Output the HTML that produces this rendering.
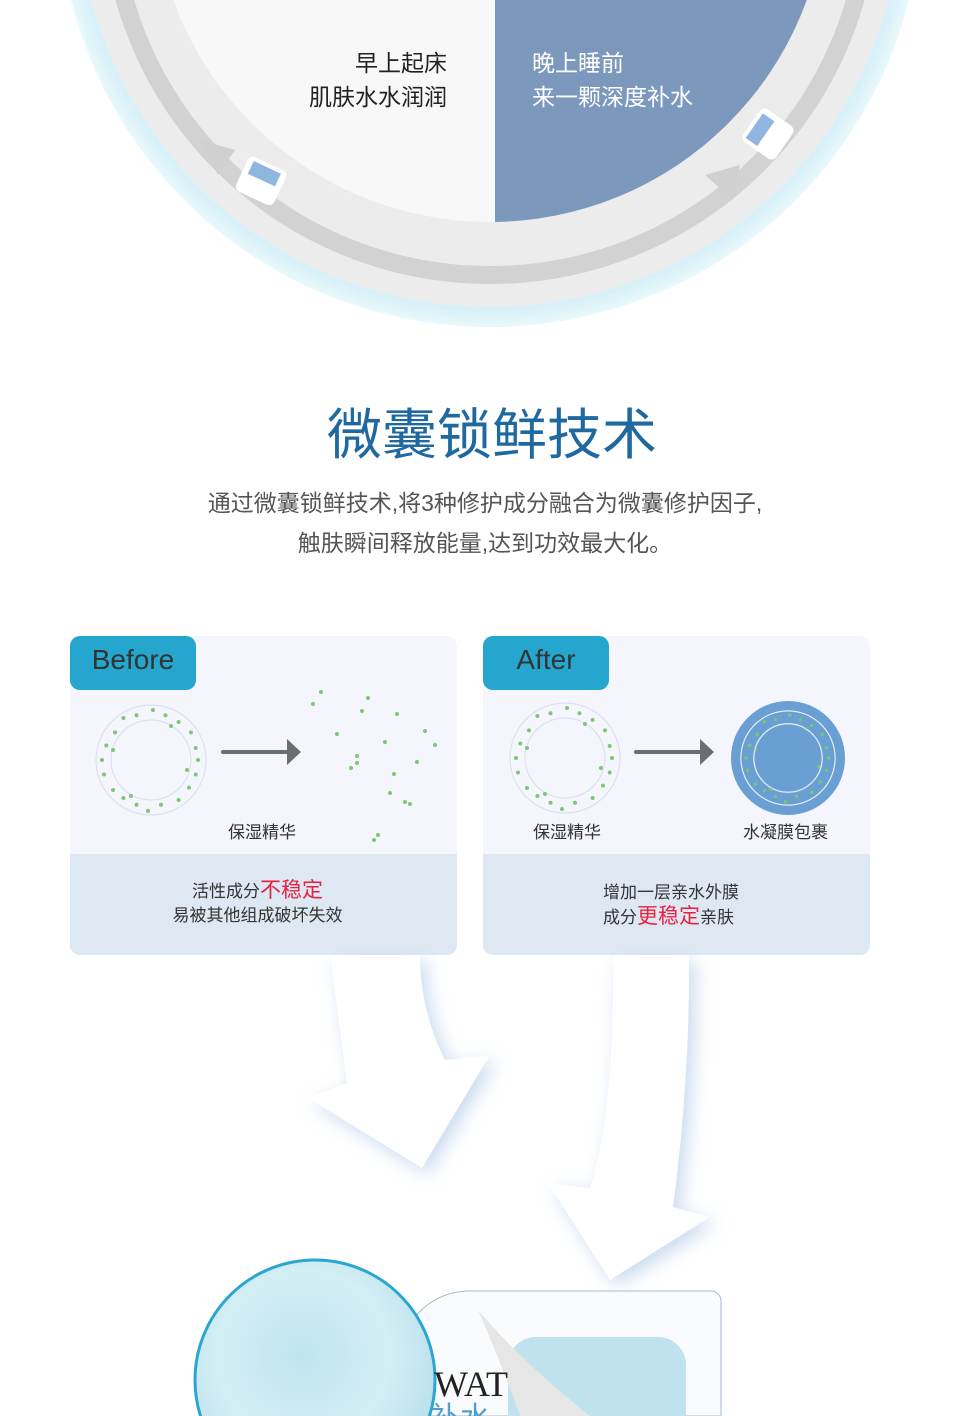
<!DOCTYPE html>
<html><head><meta charset="utf-8"><style>
html,body{margin:0;width:970px;height:1416px;overflow:hidden;background:#fff;position:relative;font-family:"Liberation Sans","Noto Sans CJK SC",sans-serif}
.a{position:absolute;white-space:nowrap}
</style></head><body>
<svg class="a" style="left:0;top:0" width="970" height="1416" viewBox="0 0 970 1416">
<defs>
<clipPath id="ph"><circle cx="490" cy="-115" r="337"/></clipPath>
<radialGradient id="rim" cx="490" cy="-105" r="432" gradientUnits="userSpaceOnUse">
<stop offset="0.9" stop-color="#f2f6f8"/><stop offset="0.96" stop-color="#d7f0f7"/><stop offset="1" stop-color="#e9f8fc"/></radialGradient>
<radialGradient id="jar" cx="0.45" cy="0.4" r="0.6"><stop offset="0" stop-color="#bfe4ee"/><stop offset="0.6" stop-color="#d3eef5"/><stop offset="1" stop-color="#b8dfec"/></radialGradient>
<filter id="bl" x="-30%" y="-30%" width="160%" height="160%"><feGaussianBlur stdDeviation="9"/></filter>
<g id="ring"><circle r="55" fill="none" stroke="#d5deee" stroke-width="1"/><circle r="40" fill="none" stroke="#d5deee" stroke-width="1"/>
<g fill="#7cc96f"><circle cx="47" cy="0" r="2"/><circle cx="44.7" cy="14.5" r="2"/><circle cx="38" cy="27.6" r="2"/><circle cx="27.6" cy="40" r="2"/><circle cx="10" cy="44.7" r="2"/><circle cx="-3" cy="51" r="2"/><circle cx="-14.5" cy="44.7" r="2"/><circle cx="-27.6" cy="38" r="2"/><circle cx="-38" cy="30" r="2"/><circle cx="-47" cy="14.5" r="2"/><circle cx="-49" cy="0" r="2"/><circle cx="-44.7" cy="-14.5" r="2"/><circle cx="-36" cy="-27.6" r="2"/><circle cx="-27.6" cy="-42" r="2"/><circle cx="-14.5" cy="-44.7" r="2"/><circle cx="2" cy="-50" r="2"/><circle cx="14.5" cy="-44.7" r="2"/><circle cx="27.6" cy="-38" r="2"/><circle cx="40" cy="-27.6" r="2"/><circle cx="44.7" cy="-12" r="2"/><circle cx="20" cy="-34" r="2"/><circle cx="-20" cy="36" r="2"/><circle cx="36" cy="10" r="2"/><circle cx="-38" cy="-10" r="2"/></g></g>
</defs>
<circle cx="490" cy="-105" r="432" fill="url(#rim)"/>
<circle cx="490" cy="-105" r="412" fill="#ececec"/>
<circle cx="490" cy="-105" r="380" fill="none" stroke="#d2d2d2" stroke-width="18"/>
<g clip-path="url(#ph)">
<rect x="100" y="-500" width="395" height="800" fill="#f8f8f8"/>
<rect x="100" y="-500" width="395" height="210" fill="#f1e2cf"/>
<rect x="495" y="-500" width="400" height="800" fill="#7c98bc"/>
</g>
<polygon points="200,140 235,150 218,175" fill="#d0d0d0"/>
<polygon points="705,175 740,165 733,200" fill="#d0d0d0"/>
<rect x="240" y="162" width="42" height="38" rx="6" fill="#fff" transform="rotate(25 261 181)"/>
<rect x="246" y="166" width="30" height="14" fill="#8fb6de" transform="rotate(25 261 181)"/>
<rect x="748" y="114" width="40" height="40" rx="6" fill="#fff" transform="rotate(-55 768 134)"/>
<rect x="752" y="118" width="30" height="14" fill="#8fb6de" transform="rotate(-55 768 134)"/>
<rect x="70" y="636" width="387" height="319" rx="10" fill="#f4f5fd"/>
<path d="M70 854H457V945a10 10 0 0 1-10 10H80a10 10 0 0 1-10-10Z" fill="#dde8f3"/>
<rect x="70" y="636" width="126" height="54" rx="10" fill="#25a6cf"/>
<rect x="483" y="636" width="387" height="319" rx="10" fill="#f4f5fd"/>
<path d="M483 854H870V945a10 10 0 0 1-10 10H493a10 10 0 0 1-10-10Z" fill="#dde8f3"/>
<rect x="483" y="636" width="126" height="54" rx="10" fill="#25a6cf"/>
<use href="#ring" x="151" y="760"/>
<use href="#ring" x="565" y="758"/>
<circle cx="788" cy="758" r="57" fill="#6a9fd4"/>
<use href="#ring" x="788" y="758" transform="translate(788 758) scale(0.86) translate(-788 -758)" opacity="0.95"/>
<circle cx="788" cy="758" r="47" fill="none" stroke="#fff" stroke-opacity="0.7"/>
<circle cx="788" cy="758" r="34" fill="none" stroke="#fff" stroke-opacity="0.7"/>
<g stroke="#6d6d70" stroke-width="4" stroke-linecap="round"><line x1="223" y1="752" x2="290" y2="752"/><line x1="636" y1="752" x2="703" y2="752"/></g>
<polygon points="287,739 301,752 287,765" fill="#6d6d70"/><polygon points="700,739 714,752 700,765" fill="#6d6d70"/>
<g fill="#7cc96f"><circle cx="321" cy="692" r="2"/><circle cx="313" cy="704" r="2"/><circle cx="368" cy="698" r="2"/><circle cx="362" cy="711" r="2"/><circle cx="397" cy="714" r="2"/><circle cx="337" cy="734" r="2"/><circle cx="385" cy="742" r="2"/><circle cx="425" cy="731" r="2"/><circle cx="435" cy="745" r="2"/><circle cx="357" cy="756" r="2"/><circle cx="357" cy="763" r="2"/><circle cx="351" cy="768" r="2"/><circle cx="417" cy="762" r="2"/><circle cx="394" cy="774" r="2"/><circle cx="390" cy="793" r="2"/><circle cx="405" cy="802" r="2"/><circle cx="410" cy="804" r="2"/><circle cx="378" cy="835" r="2"/><circle cx="374" cy="840" r="2"/></g>
<g fill="#c9daf0" filter="url(#bl)" transform="translate(6 6)">
<path d="M330 955 L347 1083 L308 1098 L422 1168 L490 1055 L445 1060 Q420 1010 420 955Z"/>
<path d="M613 955 Q615 1110 590 1188 L548 1183 L610 1280 L710 1217 L673 1207 Q690 1080 689 955Z"/>
</g>
<g fill="#fff">
<path d="M330 955 L347 1083 L308 1098 L422 1168 L490 1055 L445 1060 Q420 1010 420 955Z"/>
<path d="M613 955 Q615 1110 590 1188 L548 1183 L610 1280 L710 1217 L673 1207 Q690 1080 689 955Z"/>
</g>
<path d="M405 1416 V1330 Q430 1291 470 1291 H711 a10 10 0 0 1 10 10 V1416Z" fill="#fafbfc" stroke="#a9bad0" stroke-width="1"/>
<rect x="508" y="1337" width="178" height="120" rx="28" fill="#bfe2ee"/>
<path d="M478 1310 Q520 1360 590 1416 H520 Q500 1360 478 1310Z" fill="#e6e6e6"/>
<circle cx="315" cy="1380" r="120" fill="url(#jar)" stroke="#2aa6d0" stroke-width="3"/>
<text x="434" y="1396" font-family="Liberation Serif,serif" font-size="36" fill="#222">WAT</text>
<text x="430" y="1428" font-size="30" fill="#4d9fd0" font-family="Liberation Sans,Noto Sans CJK SC,sans-serif">补水</text>
</svg>
<div class="a" style="right:523px;top:46px;font-size:23px;line-height:34px;color:#222;text-align:right">早上起床<br>肌肤水水润润</div>
<div class="a" style="left:532px;top:46px;font-size:23px;line-height:34px;color:#fff">晚上睡前<br>来一颗深度补水</div>
<div class="a" style="left:0;width:984px;top:400px;text-align:center;font-size:55px;color:#1f68a0;line-height:70px">微囊锁鲜技术</div>
<div class="a" style="left:0;width:970px;top:483px;text-align:center;font-size:23px;color:#555;line-height:40px">通过微囊锁鲜技术,将3种修护成分融合为微囊修护因子,<br>触肤瞬间释放能量,达到功效最大化。</div>
<div class="a" style="left:70px;width:126px;top:644px;text-align:center;font-size:28px;color:#333">Before</div>
<div class="a" style="left:483px;width:126px;top:644px;text-align:center;font-size:28px;color:#333">After</div>
<div class="a" style="left:228px;top:818px;font-size:17px;color:#333">保湿精华</div>
<div class="a" style="left:533px;top:818px;font-size:17px;color:#333">保湿精华</div>
<div class="a" style="left:743px;top:818px;font-size:17px;color:#333">水凝膜包裹</div>
<div class="a" style="left:64px;width:387px;top:879px;text-align:center;font-size:17px;line-height:24px;color:#333">活性成分<span style="color:#e8213f;font-size:21px">不稳定</span><br>易被其他组成破坏失效</div>
<div class="a" style="left:603px;top:881px;font-size:17px;line-height:24px;color:#333">增加一层亲水外膜<br>成分<span style="color:#e8213f;font-size:21px">更稳定</span>亲肤</div>
</body></html>
